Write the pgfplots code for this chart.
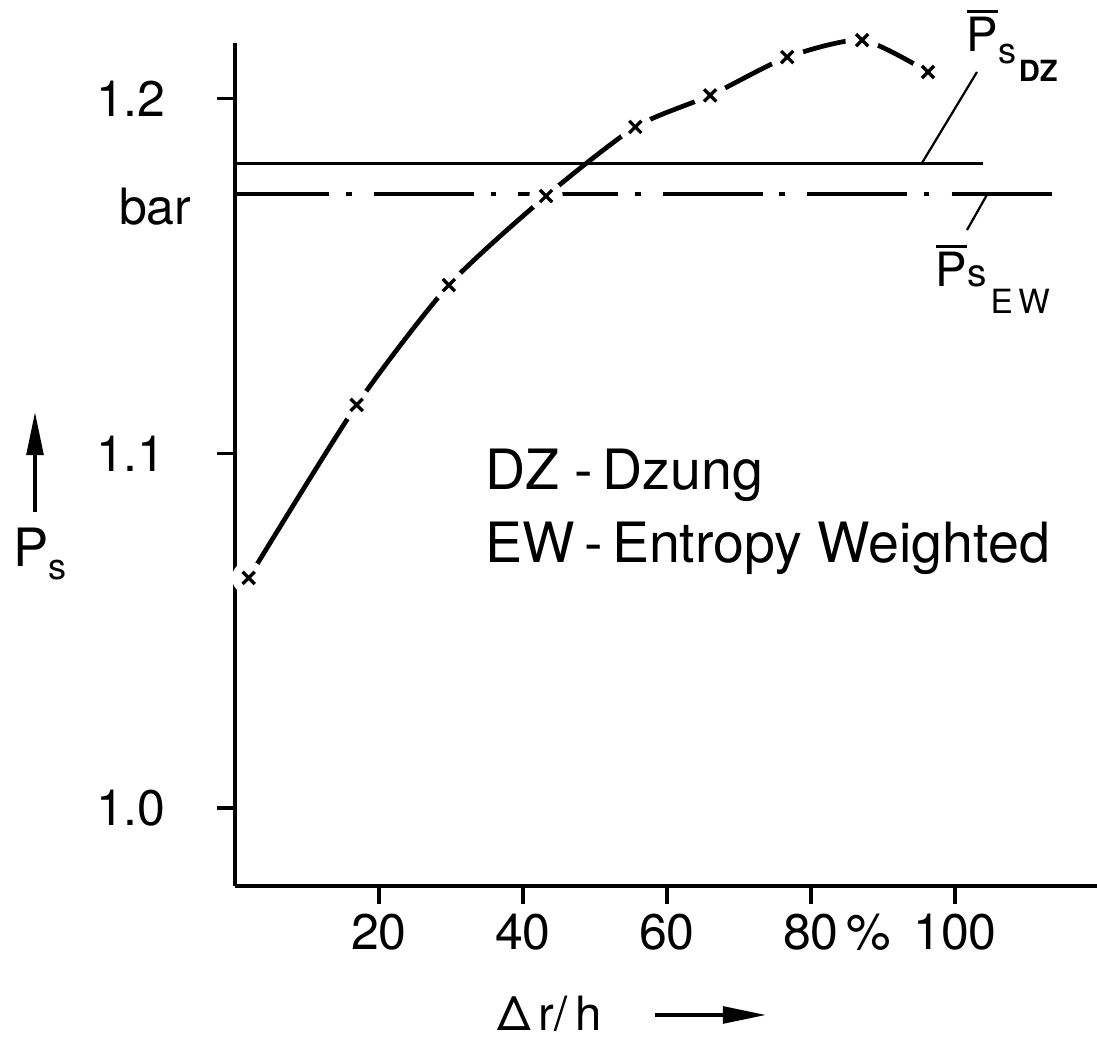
\documentclass[border=0pt]{standalone}
\usepackage{pgfplots}
\pgfplotsset{compat=1.18}
\usepackage{pgfplotstable}
\usepackage{fontspec}
\setmainfont{TeX Gyre Heros}
\usetikzlibrary{arrows.meta}
\newcommand\fs[1]{\fontsize{#1}{#1}\selectfont}
\newcommand\Pbar{\leavevmode\setbox0\hbox{P}\rlap{\rule[\dimexpr\ht0+1.6pt\relax]{\wd0}{1.1pt}}\box0}

\pgfplotstableread{
x y
1.9 1.0649
16.9 1.1137
29.7 1.1475
43.2 1.1726
55.6 1.1921
66.0 1.2010
76.7 1.2118
87.1 1.2166
96.25 1.2076
}\curve

\begin{document}
\begin{tikzpicture}
\begin{axis}[
  at={(0,0)}, anchor=south west,
  scale only axis, width=311.04pt, height=303.5pt,
  xmin=0, xmax=120, ymin=0.978, ymax=1.2158,
  axis lines*=left, axis on top,
  axis line style={line width=1.3pt},
  xtick={20,40,60,80,100}, ytick={1.0,1.1,1.2},
  xticklabels={20,40,60,80,100}, yticklabels={1.0,1.1,1.2},
  tick align=outside, major tick length=6.5pt,
  every tick/.style={black, line width=1.1pt},
  tick label style={font=\fs{18}},
  yticklabel style={anchor=west, xshift=-47pt},
  /pgf/number format/assume math mode=true,
  clip=false,
]
\addplot[black, line width=1.7pt, smooth, tension=0.4] table {\curve};
\addplot[only marks, mark=*, mark size=5.8pt, mark options={draw=white, fill=white}] table {\curve};
\addplot[black, line width=1.1pt] coordinates {(0,1.1817) (103.9,1.1817)};
\addplot[black, line width=1.4pt, dash pattern=on 36pt off 6pt on 2pt off 8pt, dash phase=2pt] coordinates {(0,1.1732) (113.9,1.1732)};
\addplot[black, only marks, mark=x, mark size=3.1pt, mark options={line width=1.2pt}] table {\curve};
\end{axis}
\begin{scope}[x=0.36pt, y=-0.36pt, shift={(-84.6pt,318.96pt)}]
\node[anchor=base east, inner sep=0, font=\fs{18}] at (192,225) {bar};
\draw[line width=1.3pt, -{Triangle[length=15.5pt,width=6pt]}] (35,512) -- (35,412);
\node[anchor=base west, inner sep=0, font=\fs{19}] at (13,567) {P\raisebox{-4.5pt}{\fs{13}s}};
\node[anchor=base west, inner sep=0, font=\fs{17}] at (497,1031) {Δ\,r/\,h};
\draw[line width=1.3pt, -{Triangle[length=15.5pt,width=6pt]}] (655,1015) -- (766,1015);
\node[anchor=base, inner sep=0, font=\fs{18}] at (869,950) {\%};
\node[anchor=base west, inner sep=0, font=\fs{20}] at (485,490) {DZ -\,Dzung};
\node[anchor=base west, inner sep=0, font=\fs{20}] at (485,563) {EW\,-\,Entropy Weighted};
\draw[line width=0.8pt] (922,163) -- (977,72);
\draw[line width=0.8pt] (988,193) -- (967,230);
\node[anchor=base west, inner sep=0, font=\fs{17}] at (966,52) {\Pbar\raisebox{-4pt}{\fs{13}s}\hspace{1pt}\raisebox{-10.5pt}{\fs{10.5}\bfseries DZ}};
\node[anchor=base west, inner sep=0, font=\fs{17}] at (935,287) {\Pbar\fs{14}s\hspace{1.5pt}\raisebox{-9.4pt}{\fs{12}E\hspace{2pt}W}};
\pgfresetboundingbox
\path (0,0) rectangle (1097,1040);
\end{scope}
\end{tikzpicture}
\end{document}
